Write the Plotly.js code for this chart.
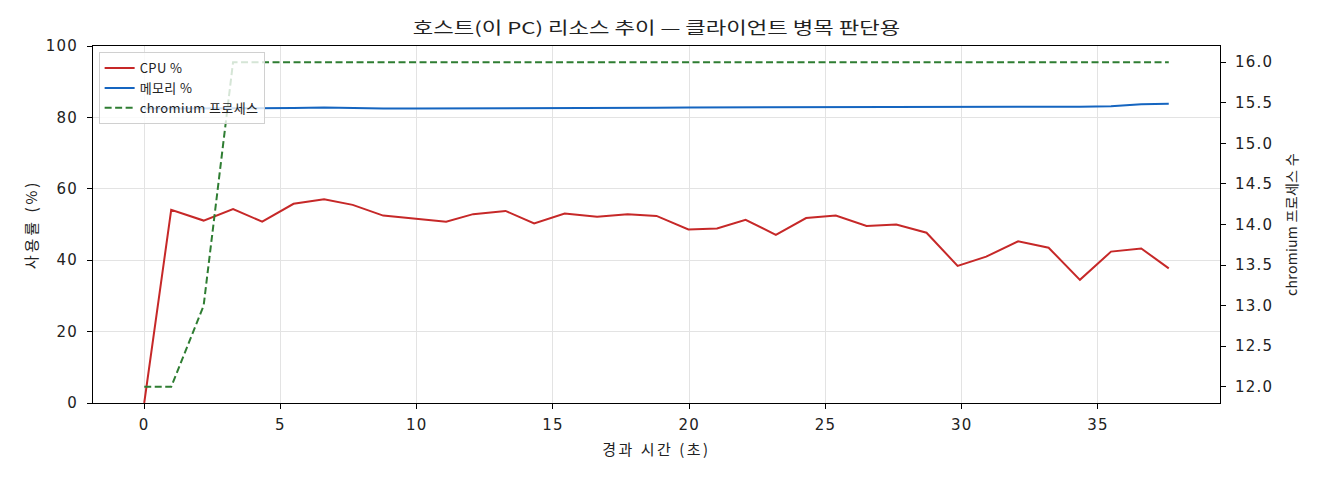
<!DOCTYPE html>
<html>
<head>
<meta charset="utf-8">
<script src="https://cdn.plot.ly/plotly-3.0.1.min.js"></script>
<style>
html,body{margin:0;padding:0;background:#fff;}
#chart{width:1320px;height:480px;}
.gtitle{transform-box:fill-box;transform-origin:center;transform:scaleX(1.35);}
.xtick text,.ytick text,.y2tick text{letter-spacing:1.2px;}
.xtitle{letter-spacing:2.5px;}
.ytitle{letter-spacing:3px;}
.y2title{letter-spacing:0.3px;}
.legendtext{letter-spacing:0.4px;}
</style>
</head>
<body>
<div id="chart"></div>
<script>
const elapsedSec = [0, 0.99, 2.18, 3.26, 4.33, 5.48, 6.60, 7.65, 8.77, 9.90, 11.08, 12.07, 13.26, 14.31, 15.43, 16.62, 17.74, 18.80, 19.97, 21.02, 22.07, 23.18, 24.29, 25.38, 26.51, 27.60, 28.71, 29.85, 30.90, 32.07, 33.19, 34.34, 35.48, 36.59, 37.60];
const cpuPct = [0, 54.1, 51.1, 54.3, 50.8, 55.8, 57.1, 55.5, 52.5, 51.6, 50.8, 52.9, 53.8, 50.3, 53.1, 52.2, 52.9, 52.4, 48.6, 48.9, 51.3, 47.1, 51.8, 52.5, 49.6, 50.0, 47.7, 38.4, 41.0, 45.3, 43.5, 34.5, 42.4, 43.3, 37.7];
const memPct = [82.5, 82.5, 82.6, 82.6, 82.6, 82.6, 82.8, 82.6, 82.5, 82.5, 82.5, 82.5, 82.5, 82.6, 82.6, 82.7, 82.7, 82.7, 82.8, 82.8, 82.9, 83.0, 83.0, 82.9, 82.9, 82.9, 82.8, 83.0, 83.0, 83.0, 83.0, 83.0, 83.1, 83.7, 83.8];
const chromiumProcs = [12, 12, 13, 16, 16, 16, 16, 16, 16, 16, 16, 16, 16, 16, 16, 16, 16, 16, 16, 16, 16, 16, 16, 16, 16, 16, 16, 16, 16, 16, 16, 16, 16, 16, 16];
const seriesNames = ['CPU %', '메모리 %', 'chromium 프로세스'];
const titleText = '호스트(이 PC) 리소스 추이 — 클라이언트 병목 판단용';
const xTitle = '경과 시간 (초)';
const yTitle = '사용률 (%)';
const y2Title = 'chromium 프로세스 수';

const FONT = '"Noto Sans CJK KR", "DejaVu Sans", sans-serif';
const TICKFONT = '"DejaVu Sans", "Noto Sans CJK KR", sans-serif';

const traces = [
  {x: elapsedSec, y: cpuPct, name: seriesNames[0], type: 'scatter', mode: 'lines',
   line: {color: '#c62828', width: 2}, yaxis: 'y'},
  {x: elapsedSec, y: memPct, name: seriesNames[1], type: 'scatter', mode: 'lines',
   line: {color: '#1565c0', width: 2}, yaxis: 'y'},
  {x: elapsedSec, y: chromiumProcs, name: seriesNames[2], type: 'scatter', mode: 'lines',
   line: {color: '#2e7d32', width: 2, dash: '7px,3.5px'}, yaxis: 'y2'}
];

const tickFont = {family: TICKFONT, size: 15, color: '#222'};

const layout = {
  width: 1320, height: 480,
  margin: {l: 93, r: 100, t: 46, b: 77, pad: 0},
  paper_bgcolor: '#fff', plot_bgcolor: '#fff',
  font: {family: FONT, size: 14, color: '#222'},
  title: {text: titleText, x: 0.5, xref: 'paper', y: 0.942, yref: 'container', yanchor: 'middle',
          font: {family: FONT, size: 16.5, color: '#222'}},
  showlegend: true,
  legend: {x: 0.005, y: 0.983, xanchor: 'left', yanchor: 'top',
           bgcolor: 'rgba(255,255,255,0.8)', bordercolor: '#d0d0d0', borderwidth: 1,
           font: {family: FONT, size: 13, color: '#222'}, itemwidth: 30},
  xaxis: {range: [-1.88, 39.48], dtick: 5, tick0: 0, ticks: 'outside', ticklen: 5, tickcolor: '#000',
          showline: true, linecolor: '#000', linewidth: 1, mirror: true,
          showgrid: true, gridcolor: '#e3e3e3', gridwidth: 1, zeroline: false,
          tickfont: tickFont, ticklabelstandoff: 3,
          title: {text: xTitle, font: {family: FONT, size: 15, color: '#222'}, standoff: 11}},
  yaxis: {range: [0, 100], dtick: 20, tick0: 0, ticks: 'outside', ticklen: 5, tickcolor: '#000',
          showline: true, linecolor: '#000', linewidth: 1,
          showgrid: true, gridcolor: '#e3e3e3', gridwidth: 1, zeroline: false,
          tickfont: tickFont, ticklabelstandoff: 6,
          title: {text: yTitle, font: {family: FONT, size: 15, color: '#222'}, standoff: 4}},
  yaxis2: {range: [11.8, 16.2], dtick: 0.5, tick0: 12, tickformat: '.1f', overlaying: 'y', side: 'right',
           ticks: 'outside', ticklen: 5, tickcolor: '#000',
           showline: true, linecolor: '#000', linewidth: 1, showgrid: false, zeroline: false,
           tickfont: tickFont, ticklabelstandoff: 6,
           title: {text: y2Title, font: {family: FONT, size: 14, color: '#222'}, standoff: 14}}
};

Plotly.newPlot('chart', traces, layout, {displayModeBar: false, staticPlot: true});
</script>
</body>
</html>
